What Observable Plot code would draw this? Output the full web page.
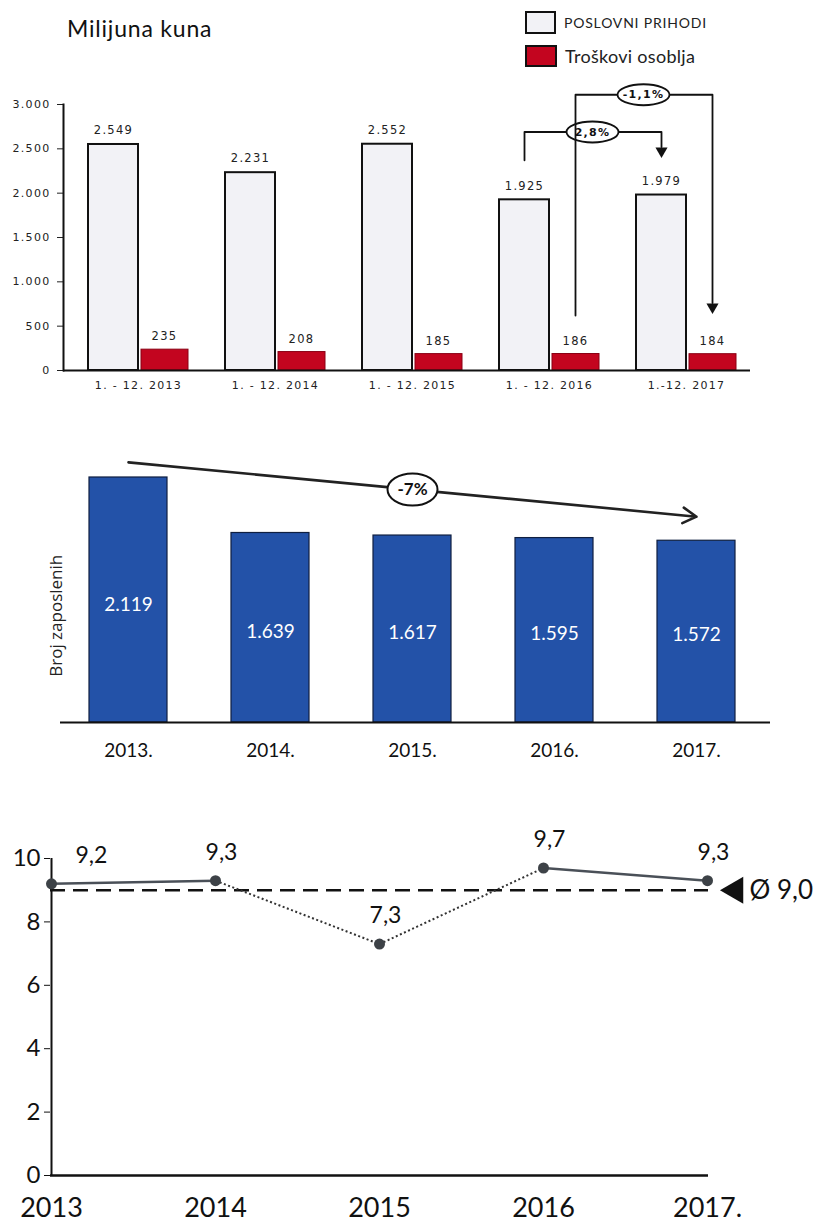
<!DOCTYPE html>
<html>
<head>
<meta charset="utf-8">
<script src="https://cdn.jsdelivr.net/npm/d3@7"></script>
<script src="https://cdn.jsdelivr.net/npm/@observablehq/plot@0.6"></script>
<style>
  html, body { margin: 0; padding: 0; background: white; }
  #wrap { position: relative; width: 824px; height: 1223px; background: white; overflow: hidden; }
  .abs { position: absolute; }
  .legend-item { position: absolute; display: flex; align-items: center; font-family: Lato, "Open Sans", sans-serif; color: #222; }
  .swatch { display: inline-block; box-sizing: border-box; border: 2px solid #111; margin-right: 8px; }
</style>
</head>
<body>
<div id="wrap">
  <div id="c1" class="abs" style="left:0;top:0"></div>
  <div id="c2" class="abs" style="left:0;top:400px"></div>
  <div id="c3" class="abs" style="left:0;top:810px"></div>
  <div class="abs" style="left:67px;top:14px;font:23px Lato, 'Open Sans', sans-serif;letter-spacing:0.8px;color:#111">Milijuna kuna</div>
  <div class="legend-item" style="left:525px;top:11px;font-size:14px;letter-spacing:0.8px">
    <span class="swatch" style="width:31px;height:23px;background:#f2f2f6"></span>POSLOVNI PRIHODI</div>
  <div class="legend-item" style="left:525px;top:45px;font-size:18px;letter-spacing:0.3px">
    <span class="swatch" style="width:32px;height:22px;background:#c3051f"></span>Troškovi osoblja</div>
</div>
<script>
// ---------- data ----------
const years = ["2013", "2014", "2015", "2016", "2017"];
const poslovniPrihodi = [2549, 2231, 2552, 1925, 1979];
const troskoviOsoblja = [235, 208, 185, 186, 184];
const xLabels1 = ["1. - 12. 2013", "1. - 12. 2014", "1. - 12. 2015", "1. - 12. 2016", "1.-12. 2017"];
const yTicks1 = [0, 500, 1000, 1500, 2000, 2500, 3000];
// change annotations (levels in million kuna)
const changeNotes = [
  { label: "2,8%", from: "2016", to: "2017", series: "P", start: 2370, top: 2690, end: 2520 },
  { label: "-1,1%", from: "2016", to: "2017", series: "T", start: 620, top: 3110, end: 760 }
];

const brojZaposlenih = [2119, 1639, 1617, 1595, 1572];
const xLabels2 = ["2013.", "2014.", "2015.", "2016.", "2017."];
const trendNote = { label: "-7%", from: "2013", to: "2017", mid: "2015", start: 2250, end: 1780 };

const lineValues = [9.2, 9.3, 7.3, 9.7, 9.3];
const lineSegmentStyles = ["solid", "dotted", "dotted", "solid"];
const average = 9.0;
const xLabels3 = ["2013", "2014", "2015", "2016", "2017."];
const yTicks3 = [0, 2, 4, 6, 8, 10];

// ---------- helpers ----------
const fmtThousands = v => d3.format(",")(v).replace(/,/g, ".");
const fmtDecimal = v => v.toFixed(1).replace(".", ",");
function ellipseSymbol(rx, ry) {
  const k = 0.5523;
  return {
    draw(ctx) {
      ctx.moveTo(rx, 0);
      ctx.bezierCurveTo(rx, k * ry, k * rx, ry, 0, ry);
      ctx.bezierCurveTo(-k * rx, ry, -rx, k * ry, -rx, 0);
      ctx.bezierCurveTo(-rx, -k * ry, -k * rx, -ry, 0, -ry);
      ctx.bezierCurveTo(k * rx, -ry, rx, -k * ry, rx, 0);
      ctx.closePath();
    }
  };
}

// ---------- chart 1 ----------
const rev = years.map((year, i) => ({ year, value: poslovniPrihodi[i] }));
const cost = years.map((year, i) => ({ year, value: troskoviOsoblja[i] }));
const seriesOffset = { P: -25, T: 26 };

const noteMarks = changeNotes.flatMap(n => {
  const off = seriesOffset[n.series];
  const path = [[n.from, n.start], [n.from, n.top], [n.to, n.top], [n.to, n.end]];
  return [
    Plot.line(path, { x: d => d[0], y: d => d[1], dx: off, stroke: "#111", strokeWidth: 1.8 }),
    Plot.dot([[n.to, n.end]], { x: d => d[0], y: d => d[1], dx: off, dy: 4, symbol: "triangle", rotate: 180, r: 4.5, fill: "#111" }),
    Plot.dot([n], { x: "from", y: "top", dx: off + 68, symbol: ellipseSymbol(26, 10.5), fill: "white", stroke: "#111", strokeWidth: 1.8 }),
    Plot.text([n], { x: "from", y: "top", dx: off + 68, text: "label", fontSize: 11, fontWeight: "bold", fill: "#111" })
  ];
});

const chart1 = Plot.plot({
  width: 824, height: 400,
  marginTop: 104, marginBottom: 30, marginLeft: 63, marginRight: 74,
  style: { fontFamily: "'DejaVu Sans', sans-serif", fontSize: "11px", color: "#222", background: "transparent", letterSpacing: "1.3px" },
  x: { domain: years, paddingInner: 0.27, paddingOuter: 0.14, align: 0.63, label: null, tickSize: 0, tickPadding: 11, tickFormat: d => xLabels1[years.indexOf(d)] },
  y: { domain: [0, 3000], ticks: yTicks1, tickFormat: fmtThousands, label: null, tickSize: 6, tickPadding: 7 },
  marks: [
    Plot.frame({ anchor: "left", strokeWidth: 2, stroke: "#111" }),
    Plot.barY(rev, { x: "year", y: "value", fill: "#f2f2f6", stroke: "#111", strokeWidth: 2, insetRight: 50 }),
    Plot.barY(cost, { x: "year", y: "value", fill: "#c3051f", stroke: "#8a0014", strokeWidth: 1, insetLeft: 53 }),
    Plot.ruleY([0], { stroke: "#111", strokeWidth: 2 }),
    Plot.text(rev, { x: "year", y: "value", text: d => fmtThousands(d.value), dx: -25, dy: -14, fontSize: 11.5, fill: "#222" }),
    Plot.text(cost, { x: "year", y: "value", text: d => fmtThousands(d.value), dx: 26, dy: -13, fontSize: 11.5, fill: "#222" }),
    ...noteMarks
  ]
});
document.getElementById("c1").append(chart1);

// ---------- chart 2 ----------
const staff = years.map((year, i) => ({ year, value: brojZaposlenih[i] }));
const chart2 = Plot.plot({
  width: 824, height: 380,
  marginTop: 44.5, marginBottom: 58, marginLeft: 60, marginRight: 54,
  style: { fontFamily: "Lato, 'Open Sans', sans-serif", fontSize: "19px", color: "#111", background: "transparent" },
  x: { domain: years, paddingInner: 0.45, paddingOuter: 0.22, align: 0.45, label: null, tickSize: 0, tickPadding: 21, tickFormat: d => xLabels2[years.indexOf(d)] },
  y: { domain: [0, 2400], axis: null },
  marks: [
    Plot.barY(staff, { x: "year", y: "value", fill: "#2352a8", stroke: "#0f1f40", strokeWidth: 1.2 }),
    Plot.ruleY([0], { stroke: "#111", strokeWidth: 2.2 }),
    Plot.text(staff, { x: "year", y: d => d.value * 0.48, text: d => fmtThousands(d.value), fill: "white", fontSize: 19 }),
    Plot.text(["Broj zaposlenih"], { frameAnchor: "left", textAnchor: "middle", rotate: -90, dx: -4, dy: 32, fontSize: 17, fontFamily: "'Open Sans', sans-serif", fill: "#222" }),
    Plot.arrow([trendNote], { x1: "from", y1: "start", x2: "to", y2: "end", stroke: "#222", strokeWidth: 2.6, headLength: 9, bend: 0 }),
    Plot.dot([trendNote], { x: "mid", y: d => (d.start + d.end) / 2, symbol: ellipseSymbol(25, 16), fill: "white", stroke: "#111", strokeWidth: 2 }),
    Plot.text([trendNote], { x: "mid", y: d => (d.start + d.end) / 2, text: "label", fontSize: 17, fontWeight: "bold", fill: "#111" })
  ]
});
document.getElementById("c2").append(chart2);

// ---------- chart 3 ----------
const pts = years.map((year, i) => ({ year, value: lineValues[i] }));
const segs = d3.pairs(pts).map(([a, b], i) => ({ a, b, style: lineSegmentStyles[i] }));
const linkOpts = { x1: s => s.a.year, y1: s => s.a.value, x2: s => s.b.year, y2: s => s.b.value };
const chart3 = Plot.plot({
  width: 824, height: 413,
  marginTop: 48, marginBottom: 48, marginLeft: 50, marginRight: 116,
  style: { fontFamily: "Lato, 'Open Sans', sans-serif", fontSize: "24px", color: "#111", background: "transparent" },
  x: { type: "point", domain: years, padding: 0, label: null },
  y: { domain: [0, 10], ticks: yTicks3, label: null, tickSize: 6, tickPadding: 4 },
  marks: [
    Plot.axisX({ fontSize: 27, tickSize: 0, tickPadding: 22, tickFormat: d => xLabels3[years.indexOf(d)] }),
    Plot.ruleX([years[0]], { stroke: "#111", strokeWidth: 2 }),
    Plot.ruleY([0], { stroke: "#111", strokeWidth: 2.5 }),
    Plot.ruleY([average], { stroke: "#111", strokeWidth: 2.5, strokeDasharray: "15,8" }),
    Plot.link(segs.filter(s => s.style === "solid"), { ...linkOpts, stroke: "#4a5058", strokeWidth: 2.5 }),
    Plot.link(segs.filter(s => s.style === "dotted"), { ...linkOpts, stroke: "#333", strokeWidth: 2, strokeDasharray: "2,2.5" }),
    Plot.dot(pts, { x: "year", y: "value", r: 5.5, fill: "#3d4247" }),
    Plot.text(pts.slice(0, 1), { x: "year", y: "value", text: d => fmtDecimal(d.value), dx: 24, dy: -28, textAnchor: "start", fontSize: 23, fill: "#111" }),
    Plot.text(pts.slice(1), { x: "year", y: "value", text: d => fmtDecimal(d.value), dx: 6, dy: -28, fontSize: 23, fill: "#111" }),
    Plot.dot([average], { x: () => years[years.length - 1], y: d => d, symbol: "triangle", rotate: -90, r: 10, fill: "#111", dx: 28 }),
    Plot.text([average], { x: () => years[years.length - 1], y: d => d, text: d => "Ø " + fmtDecimal(d), textAnchor: "start", dx: 42, fontSize: 26, fill: "#111" })
  ]
});
document.getElementById("c3").append(chart3);
</script>
</body>
</html>
